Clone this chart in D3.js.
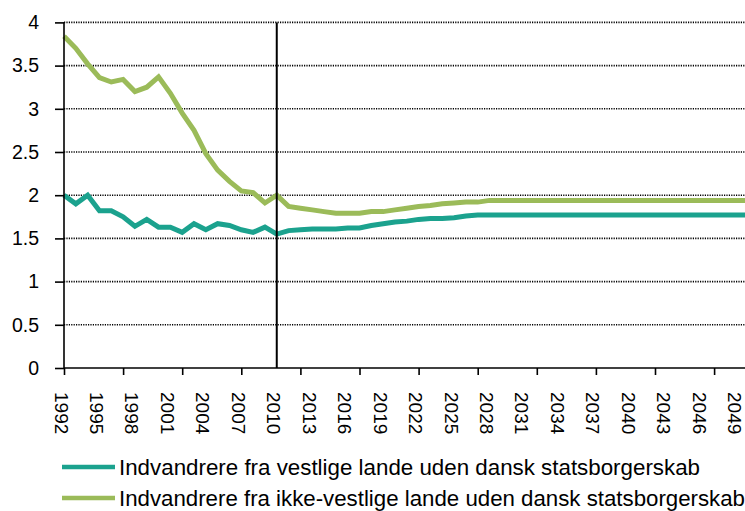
<!DOCTYPE html>
<html>
<head>
<meta charset="utf-8">
<script src="https://cdn.jsdelivr.net/npm/d3@7"></script>
<style>
  html, body { margin: 0; padding: 0; background: #fff; }
  svg { display: block; font-family: "Liberation Sans", Arial, sans-serif; }
</style>
</head>
<body>
<svg id="chart" width="745" height="511"></svg>
<script>
const years = d3.range(1992, 2051);

const westernValues = [
  2.00, 1.90, 2.00, 1.82, 1.82, 1.75, 1.64, 1.72, 1.63, 1.63,
  1.57, 1.67, 1.60, 1.67, 1.65, 1.60, 1.57, 1.63, 1.55, 1.59,
  1.60, 1.61, 1.61, 1.61, 1.62, 1.62, 1.65, 1.67, 1.69, 1.70,
  1.72, 1.73, 1.73, 1.74, 1.76, 1.77, 1.77, 1.77, 1.77, 1.77,
  1.77, 1.77, 1.77, 1.77, 1.77, 1.77, 1.77, 1.77, 1.77, 1.77,
  1.77, 1.77, 1.77, 1.77, 1.77, 1.77, 1.77, 1.77, 1.77
];

const nonWesternValues = [
  3.84, 3.70, 3.52, 3.36, 3.31, 3.34, 3.20, 3.25, 3.37, 3.18,
  2.95, 2.75, 2.48, 2.29, 2.16, 2.05, 2.03, 1.91, 2.00, 1.87,
  1.85, 1.83, 1.81, 1.79, 1.79, 1.79, 1.81, 1.81, 1.83, 1.85,
  1.87, 1.88, 1.90, 1.91, 1.92, 1.92, 1.94, 1.94, 1.94, 1.94,
  1.94, 1.94, 1.94, 1.94, 1.94, 1.94, 1.94, 1.94, 1.94, 1.94,
  1.94, 1.94, 1.94, 1.94, 1.94, 1.94, 1.94, 1.94, 1.94
];

const seriesNames = [
  "Indvandrere fra vestlige lande uden dansk statsborgerskab",
  "Indvandrere fra ikke-vestlige lande uden dansk statsborgerskab"
];
const seriesColors = ["#1BA28E", "#9BBB59"];

const yTickValues = [0, 0.5, 1, 1.5, 2, 2.5, 3, 3.5, 4];
const yTickLabels = ["0", "0.5", "1", "1.5", "2", "2.5", "3", "3.5", "4"];
const xTickMarks = d3.range(1992, 2050, 5);
const xLabelYears = d3.range(1992, 2050, 3);
const markerYear = 2010;

const svg = d3.select("#chart");
const plotLeft = 64, plotTop = 22.4, plotBottom = 368, plotRight = 745;
const step = 11.82;

const x = d3.scaleLinear().domain([1992, 2049]).range([plotLeft, plotLeft + 57 * step]);
const y = d3.scaleLinear().domain([0, 4]).range([plotBottom, plotTop]);

// gridlines
svg.append("g")
  .selectAll("line")
  .data(yTickValues.filter(v => v > 0))
  .join("line")
  .attr("x1", plotLeft).attr("x2", plotRight)
  .attr("y1", d => y(d)).attr("y2", d => y(d))
  .attr("stroke", "#000")
  .attr("stroke-width", 1.6)
  .attr("stroke-dasharray", "1.2,1.2");

// lines
const line = d3.line().x((d, i) => x(years[i])).y(d => y(d));
[westernValues, nonWesternValues].forEach((vals, k) => {
  svg.append("path")
    .datum(vals)
    .attr("d", line)
    .attr("fill", "none")
    .attr("stroke", seriesColors[k])
    .attr("stroke-width", 5)
    .attr("stroke-linejoin", "miter");
});

// marker vertical line
svg.append("line")
  .attr("x1", x(markerYear)).attr("x2", x(markerYear))
  .attr("y1", plotTop).attr("y2", plotBottom)
  .attr("stroke", "#000").attr("stroke-width", 2);

// y axis
const yAxis = d3.axisLeft(y)
  .tickValues(yTickValues)
  .tickFormat((d, i) => yTickLabels[i])
  .tickSize(9)
  .tickPadding(16);
const gy = svg.append("g").attr("transform", `translate(${plotLeft},0)`).call(yAxis);
gy.select(".domain").attr("d", `M0,${plotTop}V${plotBottom}`).attr("stroke", "#000").attr("stroke-width", 1.6);
gy.selectAll(".tick line").attr("stroke", "#000").attr("stroke-width", 1.6);
gy.selectAll("text").attr("font-size", 19.5).attr("fill", "#000")
  .attr("font-family", "'Liberation Sans', Arial, sans-serif");

// x axis
const xAxis = d3.axisBottom(x)
  .tickValues(xTickMarks)
  .tickFormat("")
  .tickSize(7);
const gx = svg.append("g").attr("transform", `translate(0,${plotBottom})`).call(xAxis);
gx.select(".domain").attr("d", `M${plotLeft},0H${plotRight}`).attr("stroke", "#000").attr("stroke-width", 1.6);
gx.selectAll(".tick line").attr("stroke", "#000").attr("stroke-width", 1.6);

// rotated x labels
svg.append("g")
  .selectAll("text")
  .data(xLabelYears)
  .join("text")
  .attr("transform", d => `translate(${x(d) - 3},392) rotate(90)`)
  .attr("text-anchor", "start")
  .attr("dominant-baseline", "central")
  .attr("font-size", 19)
  .attr("fill", "#000")
  .text(d => d);

// legend
const legendY = [467, 498];
const legendWidths = [581, 626];
seriesNames.forEach((name, k) => {
  svg.append("line")
    .attr("x1", 62).attr("x2", 115)
    .attr("y1", legendY[k]).attr("y2", legendY[k])
    .attr("stroke", seriesColors[k]).attr("stroke-width", 4.5);
  svg.append("text")
    .attr("x", 119)
    .attr("y", legendY[k] + 8)
    .attr("font-size", 22)
    .attr("fill", "#000")
    .attr("textLength", legendWidths[k])
    .attr("lengthAdjust", "spacingAndGlyphs")
    .text(name);
});
</script>
</body>
</html>
